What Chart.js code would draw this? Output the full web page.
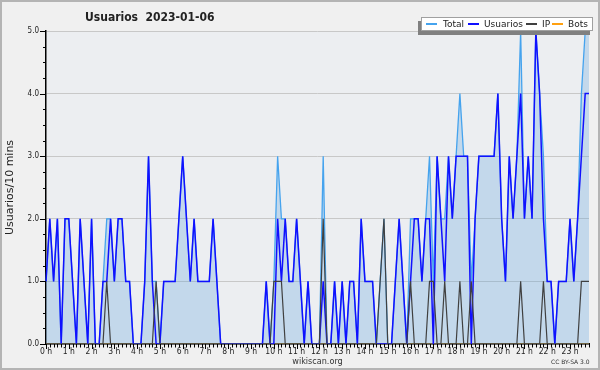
<!DOCTYPE html>
<html>
<head>
<meta charset="utf-8">
<script src="https://cdn.jsdelivr.net/npm/chart.js@4.4.0/dist/chart.umd.min.js"></script>
<style>
  body { margin: 0; background: #f0f0f0; }
  #wrap { position: relative; width: 600px; height: 370px; background: #f0f0f0; font-family: "DejaVu Sans", sans-serif; color: #222; }
  #wrap canvas { position: absolute; left: 0; top: 0; }
  #frame { position: absolute; left: 0; top: 0; width: 600px; height: 370px; box-sizing: border-box; border: 2px solid #b4b4b4; pointer-events: none; }
  #title { position: absolute; left: 85px; top: 10px; font: bold 12px/14px "DejaVu Sans Condensed", "DejaVu Sans", sans-serif; white-space: pre; }
  #legend { position: absolute; left: 421px; top: 17px; width: 172px; height: 14px; box-sizing: border-box; background: #fff; border: 1px solid #a0a0a0; box-shadow: -3px 4px 0 #808080; }
  .lg-line { position: absolute; top: 23px; width: 11px; height: 1.5px; }
  .lg-text { position: absolute; top: 19px; font: 9px/11px "DejaVu Sans", sans-serif; white-space: pre; }
  #cc { position: absolute; left: 551px; top: 358px; font: 6px/8px "DejaVu Sans", sans-serif; color: #333; }
</style>
</head>
<body>
<div id="wrap">
  <canvas id="chart" width="600" height="370"></canvas>
  <div id="title">Usuarios  2023-01-06</div>
  <div id="legend"></div>
  <div class="lg-line" style="left:426px;background:#45a3ee"></div><span class="lg-text" style="left:443px">Total</span>
  <div class="lg-line" style="left:468px;background:#1010ff"></div><span class="lg-text" style="left:484px">Usuarios</span>
  <div class="lg-line" style="left:526px;background:#404040"></div><span class="lg-text" style="left:542px">IP</span>
  <div class="lg-line" style="left:552px;background:#ffa010"></div><span class="lg-text" style="left:568px">Bots</span>
  <div id="cc">CC BY-SA 3.0</div>
  <div id="frame"></div>
</div>
<script>
// DATA: one value per 10 minutes, 0 h .. 23 h 50
const hours = ['0','1','2','3','4','5','6','7','8','9','10','11','12','13','14','15','16','17','18','19','20','21','22','23'];
const SLOTS_PER_HOUR = 6;

const usuarios = [
    1,2,1,2,0,2,2,1,0,2,1,0,
    2,0,0,1,1,2,1,2,2,1,1,0,
    0,0,1,3,1,0,0,1,1,1,1,2,
    3,2,1,2,1,1,1,1,2,1,0,0,
    0,0,0,0,0,0,0,0,0,0,1,0,
    0,2,1,2,1,1,2,1,0,1,0,0,
    0,1,0,0,1,0,1,0,1,1,0,2,
    1,1,1,0,0,0,0,0,1,2,1,0,
    1,2,2,1,2,2,0,3,2,1,3,2,
    3,3,3,3,0,2,3,3,3,3,3,4,
    2,1,3,2,3,4,2,3,2,5,4,2,
    1,1,0,1,1,1,2,1,2,3,4,4
];

const ip = [
    0,0,0,0,0,0,0,0,0,0,0,0,
    0,0,0,0,1,0,0,0,0,0,0,0,
    0,0,0,0,0,1,0,0,0,0,0,0,
    0,0,0,0,0,0,0,0,0,0,0,0,
    0,0,0,0,0,0,0,0,0,0,0,0,
    1,1,1,0,0,0,0,0,0,0,0,0,
    0,2,0,0,0,0,0,0,0,0,0,0,
    0,0,0,0,1,2,0,0,0,0,0,0,
    1,0,0,0,0,1,1,0,0,1,0,0,
    0,1,0,0,1,0,0,0,0,0,0,0,
    0,0,0,0,0,1,0,0,0,0,0,1,
    0,0,0,0,0,0,0,0,0,1,1,1
];

const total = [
    1,2,1,2,0,2,2,1,0,2,1,0,
    2,0,0,1,2,2,1,2,2,1,1,0,
    0,0,1,3,1,1,0,1,1,1,1,2,
    3,2,1,2,1,1,1,1,2,1,0,0,
    0,0,0,0,0,0,0,0,0,0,1,0,
    1,3,2,2,1,1,2,1,0,1,0,0,
    0,3,0,0,1,0,1,0,1,1,0,2,
    1,1,1,0,1,2,0,0,1,2,1,0,
    2,2,2,1,2,3,1,3,2,2,3,2,
    3,4,3,3,1,2,3,3,3,3,3,4,
    2,1,3,2,3,5,2,3,2,5,4,3,
    1,1,0,1,1,1,2,1,2,4,5,5
];

const bots = [
    0,0,0,0,0,0,0,0,0,0,0,0,
    0,0,0,0,0,0,0,0,0,0,0,0,
    0,0,0,0,0,0,0,0,0,0,0,0,
    0,0,0,0,0,0,0,0,0,0,0,0,
    0,0,0,0,0,0,0,0,0,0,0,0,
    0,0,0,0,0,0,0,0,0,0,0,0,
    0,0,0,0,0,0,0,0,0,0,0,0,
    0,0,0,0,0,0,0,0,0,0,0,0,
    0,0,0,0,0,0,0,0,0,0,0,0,
    0,0,0,0,0,0,0,0,0,0,0,0,
    0,0,0,0,0,0,0,0,0,0,0,0,
    0,0,0,0,0,0,0,0,0,0,0,0
];

// category labels, one per 10-min slot
const slots = [];
hours.forEach(h => { for (let m = 0; m < 60; m += 10) slots.push(h + ':' + String(m).padStart(2, '0')); });

const CONDENSED = '"DejaVu Sans Condensed", "DejaVu Sans", sans-serif';
Chart.defaults.font.family = CONDENSED;
Chart.defaults.color = '#222';

// plot background
const plotBg = {
    id: 'plotBg',
    beforeDraw(chart) {
        const { ctx, chartArea: a } = chart;
        ctx.save();
        ctx.fillStyle = '#eceef1';
        ctx.fillRect(a.left, a.top, a.width, a.height);
        ctx.restore();
    }
};

// small tick marks: every 10 min on x, every 0.25 on y
const tickMarks = {
    id: 'tickMarks',
    afterDraw(chart) {
        const { ctx, chartArea: a, scales: { x, y } } = chart;
        ctx.save();
        ctx.strokeStyle = '#000';
        ctx.lineWidth = 1;
        ctx.beginPath();
        for (let i = 0; i < slots.length; i++) {
            const px = Math.round(x.getPixelForValue(i)) + 0.5;
            ctx.moveTo(px, a.bottom);
            ctx.lineTo(px, a.bottom + (i % SLOTS_PER_HOUR === 0 ? 5 : 3.5));
        }
        for (let v = 0; v <= 5; v += 0.25) {
            const py = Math.round(y.getPixelForValue(v)) + 0.5;
            ctx.moveTo(a.left, py);
            ctx.lineTo(a.left - (Number.isInteger(v) ? 6 : 3), py);
        }
        ctx.stroke();
        ctx.restore();
    }
};

new Chart(document.getElementById('chart'), {
    type: 'line',
    data: {
        labels: slots,
        datasets: [
            // first dataset is drawn on top
            { label: 'IP', data: ip, borderColor: '#404040', borderWidth: 1.2, fill: false },
            { label: 'Usuarios', data: usuarios, borderColor: '#1010ff', borderWidth: 1.5, fill: false },
            { label: 'Total', data: total, borderColor: '#45a3ee', borderWidth: 1.3,
              fill: 'origin', backgroundColor: 'rgba(90,160,220,0.28)' },
            { label: 'Bots', data: bots, borderColor: '#ffa010', borderWidth: 1, fill: false }
        ]
    },
    options: {
        responsive: false,
        animation: false,
        events: [],
        layout: { padding: { top: 31, right: 11, left: 0, bottom: 0 } },
        elements: { point: { radius: 0 }, line: { tension: 0 } },
        plugins: { legend: { display: false }, tooltip: { enabled: false } },
        scales: {
            x: {
                type: 'category',
                offset: false,
                z: 1,
                grid: { display: false, drawTicks: false },
                border: { display: true, color: '#000', width: 1.5 },
                ticks: {
                    autoSkip: false, maxRotation: 0, minRotation: 0, padding: 3,
                    font: { size: 8.5 }, color: '#222',
                    callback: (v, i) => i % SLOTS_PER_HOUR === 0 ? hours[i / SLOTS_PER_HOUR] + ' h' : ''
                },
                title: { display: true, text: 'wikiscan.org', font: { size: 9 }, color: '#333', padding: { top: 0, bottom: 3 } },
                afterFit: s => { s.height = 26; }
            },
            y: {
                min: 0, max: 5,
                grid: { color: '#c8c8c8', lineWidth: 1, drawTicks: false },
                border: { display: true, color: '#000', width: 1.5 },
                ticks: { stepSize: 1, padding: 7, font: { size: 8 }, color: '#222', callback: v => v.toFixed(1) },
                title: { display: true, text: 'Usuarios/10 mins', font: { size: 11, family: '"DejaVu Sans", sans-serif' }, color: '#222', padding: { top: 4, bottom: 0 } },
                afterFit: s => { s.width = 46; }
            }
        }
    },
    plugins: [plotBg, tickMarks]
});
</script>
</body>
</html>
